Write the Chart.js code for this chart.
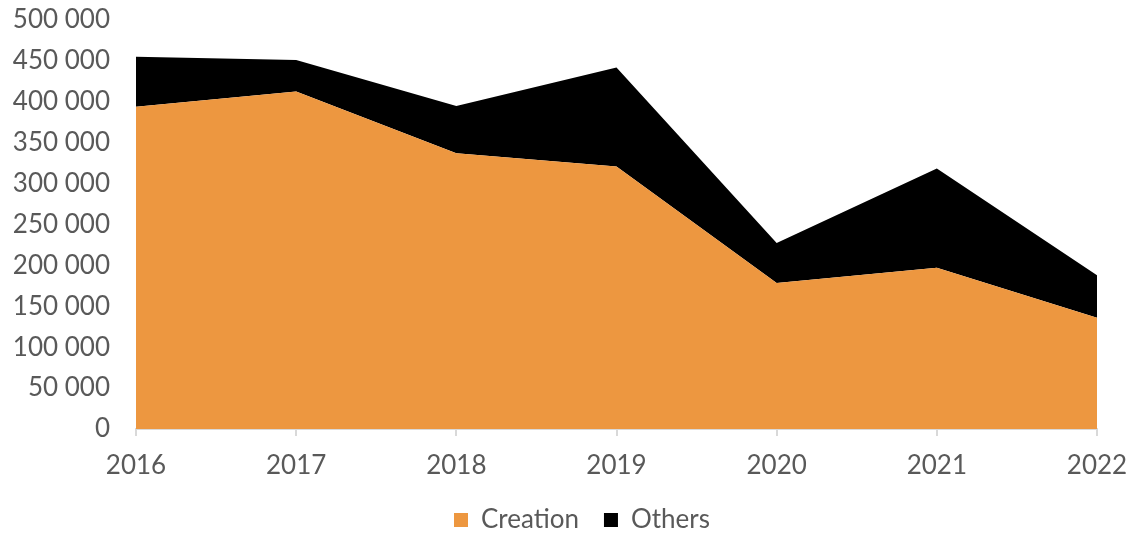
<!DOCTYPE html>
<html>
<head>
<meta charset="utf-8">
<script src="https://cdn.jsdelivr.net/npm/chart.js@4.4.0/dist/chart.umd.min.js"></script>
<style>
  html, body { margin: 0; padding: 0; background: #ffffff; }
  #wrap { width: 1130px; height: 534px; position: relative; }
</style>
</head>
<body>
<div id="wrap"><canvas id="c" width="1130" height="534"></canvas></div>
<script>
const years = ['2016', '2017', '2018', '2019', '2020', '2021', '2022'];
const creation = [394000, 412500, 337000, 321000, 178500, 197000, 136000];
const others = [61000, 38500, 58000, 121000, 49000, 121500, 52000];
const seriesNames = ['Creation', 'Others'];
const yTickMax = 500000;
const yTickStep = 50000;

const textColor = '#595959';
const fontFamily = 'Lato, "Open Sans", sans-serif';

function fmt(v) {
  return String(v).replace(/\B(?=(\d{3})+(?!\d))/g, ' ');
}

const legendPlace = {
  id: 'legendPlace',
  afterLayout(chart) {
    const lg = chart.legend;
    const p = lg.options.labels.padding;
    const start = (lg.left + p + lg.right - lg.lineWidths[0]) / 2;
    const dx = 454 - start;
    const dy = 520 - (lg.top + p + 13);
    lg.left += dx; lg.right += dx;
    lg.top += dy; lg.bottom += dy;
    chart.scales.x.bottom = chart.height;
  }
};

new Chart(document.getElementById('c'), {
  type: 'line',
  data: {
    labels: years,
    datasets: [
      { label: seriesNames[0], data: creation, backgroundColor: '#ED9740', borderColor: '#ED9740', borderWidth: 0, pointRadius: 0, fill: 'origin', tension: 0 },
      { label: seriesNames[1], data: others, backgroundColor: '#000000', borderColor: '#000000', borderWidth: 0, pointRadius: 0, fill: '-1', tension: 0 }
    ]
  },
  plugins: [legendPlace],
  options: {
    responsive: false,
    animation: false,
    devicePixelRatio: 1,
    layout: { padding: { top: 20, right: 33, left: 0, bottom: 0 } },
    plugins: {
      tooltip: { enabled: false },
      legend: {
        position: 'bottom',
        labels: { boxWidth: 14, boxHeight: 14, padding: 25, color: textColor, font: { family: fontFamily, size: 26 } }
      }
    },
    scales: {
      x: {
        offset: false,
        grid: { display: true, drawOnChartArea: false, drawTicks: true, tickLength: 7, color: '#d9d9d9', lineWidth: 2 },
        border: { display: true, color: '#d9d9d9', width: 2 },
        ticks: { color: textColor, font: { family: fontFamily, size: 26 }, padding: 14, maxRotation: 0 },
        afterFit: (s) => { s.height = 44; s.paddingLeft = 0; s.paddingRight = 0; }
      },
      y: {
        stacked: true, min: 0, max: yTickMax,
        grid: { display: false, drawTicks: false },
        border: { display: false },
        ticks: { stepSize: yTickStep, color: textColor, font: { family: fontFamily, size: 26 }, padding: 26, callback: (v) => fmt(v) },
        afterFit: (s) => { s.width = 136; s.paddingTop = 0; s.paddingBottom = 0; }
      }
    }
  }
});
</script>
</body>
</html>
